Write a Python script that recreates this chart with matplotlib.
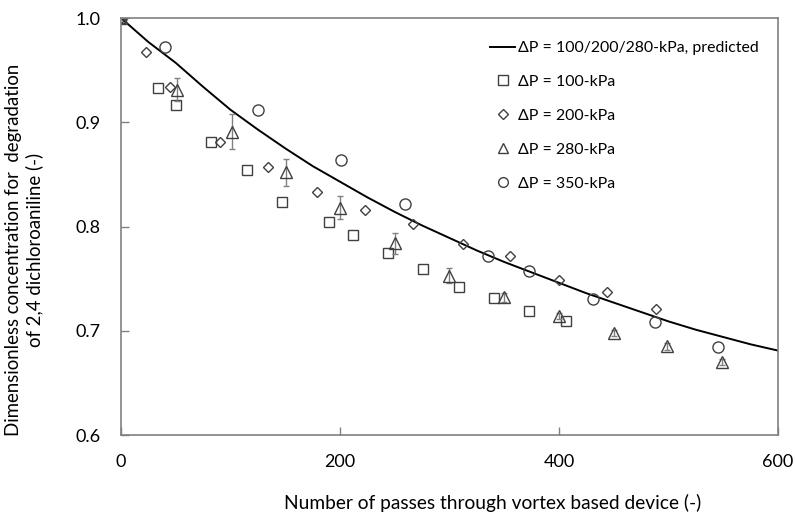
import matplotlib
matplotlib.use("Agg")
import matplotlib.pyplot as plt
from matplotlib.lines import Line2D

plt.rcParams["font.family"] = ["Lato", "DejaVu Sans"]

# predicted curve
n_pred = [0, 25, 50, 75, 100, 125, 150, 175, 200, 225, 250, 275, 300,
          325, 350, 375, 400, 425, 450, 475, 500, 525, 550, 575, 600]
c_pred = [1.000, 0.977, 0.957, 0.934, 0.912, 0.893, 0.875, 0.858, 0.843,
          0.828, 0.814, 0.801, 0.789, 0.777, 0.766, 0.756, 0.746, 0.736,
          0.727, 0.718, 0.709, 0.701, 0.694, 0.687, 0.681]

# dP = 100 kPa
n_100 = [0, 34, 50, 82, 115, 147, 190, 212, 244, 276, 309, 341, 373, 406]
c_100 = [1.0, 0.933, 0.917, 0.881, 0.854, 0.824, 0.804, 0.792, 0.775,
         0.759, 0.742, 0.731, 0.719, 0.709]

# dP = 200 kPa
n_200 = [0, 23, 45, 90, 134, 179, 223, 267, 312, 355, 400, 444, 489]
c_200 = [1.0, 0.967, 0.934, 0.881, 0.857, 0.833, 0.816, 0.802, 0.783,
         0.772, 0.749, 0.737, 0.721]

# dP = 280 kPa, with error bars
n_280 = [0, 51, 101, 151, 200, 250, 300, 350, 400, 450, 499, 549]
c_280 = [1.0, 0.931, 0.891, 0.852, 0.818, 0.784, 0.753, 0.732, 0.714,
         0.698, 0.685, 0.670]
e_280 = [0.0, 0.011, 0.017, 0.013, 0.011, 0.010, 0.007, 0.004, 0.003,
         0.003, 0.003, 0.003]

# dP = 350 kPa
n_350 = [0, 40, 125, 201, 259, 335, 373, 431, 488, 545]
c_350 = [1.0, 0.972, 0.912, 0.864, 0.822, 0.772, 0.757, 0.730, 0.708, 0.684]

edge = "#404040"
grey = "#808080"

fig = plt.figure(figsize=(7.95, 5.15), dpi=100)
ax = fig.add_axes([0.1522, 0.1553, 0.8264, 0.8097])

ln_pred, = ax.plot(n_pred, c_pred, color="black", lw=1.4)
ln_100, = ax.plot(n_100, c_100, ls="none", marker="s", ms=7.5, mfc="none",
                  mec=edge, mew=1.0)
ln_200, = ax.plot(n_200, c_200, ls="none", marker="D", ms=5.5, mfc="none",
                  mec=edge, mew=1.0)
ax.errorbar(n_280, c_280, yerr=e_280, ls="none", ecolor=grey, elinewidth=1.0,
            capsize=2.5, capthick=1.0)
ln_280, = ax.plot(n_280, c_280, ls="none", marker="^", ms=8, mfc="none",
                  mec=edge, mew=1.0)
ln_350, = ax.plot(n_350, c_350, ls="none", marker="o", ms=8, mfc="none",
                  mec=edge, mew=1.0)

ax.set_xlim(0, 600)
ax.set_ylim(0.6, 1.0)
ax.set_xticks([0, 200, 400, 600])
ax.set_yticks([0.6, 0.7, 0.8, 0.9, 1.0])
ax.set_yticklabels(["0.6", "0.7", "0.8", "0.9", "1.0"])
ax.tick_params(direction="in", length=6, width=1, color=grey, labelsize=13)
ax.tick_params(axis="y", pad=15)
ax.tick_params(axis="x", pad=14)
for s in ax.spines.values():
    s.set_color(grey)
    s.set_linewidth(1.2)

fig.text(493 / 795, 1 - 503 / 515, "Number of passes through vortex based device (-)",
         ha="center", va="center", fontsize=13.8)
fig.text(24 / 795, 1 - 250 / 515,
         "Dimensionless concentration for  degradation\nof 2,4 dichloroaniline (-)",
         ha="center", va="center", rotation=90, fontsize=13.4, linespacing=1.2,
         multialignment="center")

# legend markers without error bars
h_100 = Line2D([], [], ls="none", marker="s", ms=6.5, mfc="none", mec=edge, mew=1.0)
h_200 = Line2D([], [], ls="none", marker="D", ms=5, mfc="none", mec=edge, mew=1.0)
h_280 = Line2D([], [], ls="none", marker="^", ms=7, mfc="none", mec=edge, mew=1.0)
h_350 = Line2D([], [], ls="none", marker="o", ms=7, mfc="none", mec=edge, mew=1.0)
fig.legend([ln_pred, h_100, h_200, h_280, h_350],
           ["ΔP = 100/200/280-kPa, predicted", "ΔP = 100-kPa", "ΔP = 200-kPa",
            "ΔP = 280-kPa", "ΔP = 350-kPa"],
           loc="upper left", bbox_to_anchor=(490 / 795, 1 - 41 / 515),
           frameon=False, fontsize=11.4, handlelength=1.6, handletextpad=0.2,
           labelspacing=1.25, borderpad=0, borderaxespad=0)

fig.savefig("out.png", dpi=100)
